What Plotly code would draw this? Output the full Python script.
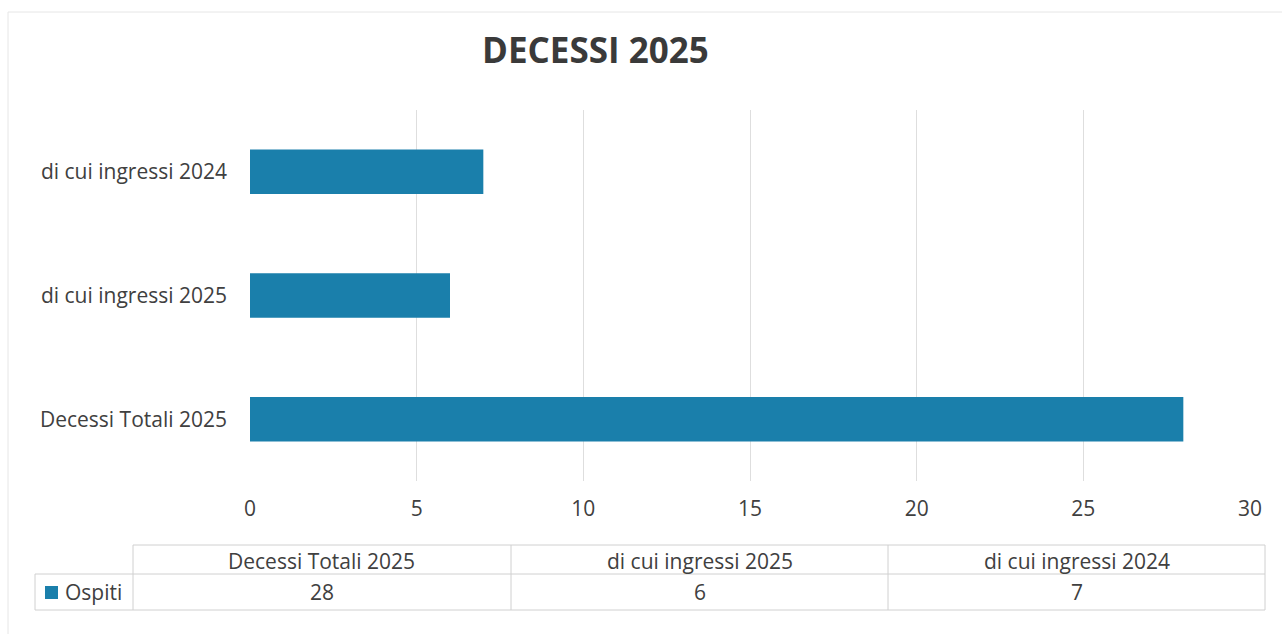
import plotly.graph_objects as go

categories = ["Decessi Totali 2025", "di cui ingressi 2025", "di cui ingressi 2024"]
values = [28, 6, 7]
series_name = "Ospiti"
title_text = "DECESSI 2025"
x_ticks = [0, 5, 10, 15, 20, 25, 30]

W, H = 1282, 634
BAR = "#1a7fab"
TXT = "#404040"
GRID = "#dedede"
FONT = "Open Sans, Noto Sans, sans-serif"
FS = 21

def px(x):
    return x / W

def py(y):
    return 1 - y / H

fig = go.Figure()
fig.add_trace(go.Bar(
    y=categories, x=values, orientation="h", name=series_name,
    marker=dict(color=BAR, line=dict(width=0)), width=0.36,
    showlegend=False, hoverinfo="x+y",
))

fig.update_layout(
    width=W, height=H, autosize=False,
    margin=dict(l=0, r=0, t=0, b=0, pad=0),
    paper_bgcolor="white", plot_bgcolor="white",
    font=dict(family=FONT, color=TXT, size=FS),
    xaxis=dict(
        domain=[px(250), px(1250)], range=[0, 30], tickvals=x_ticks,
        showgrid=True, gridcolor=GRID, gridwidth=1, zeroline=False,
        showline=False, ticks="", ticklabelstandoff=13, automargin=False,
        tickfont=dict(size=FS, color=TXT, family=FONT), fixedrange=True,
    ),
    yaxis=dict(
        domain=[py(481), py(110)], range=[-0.5, 2.5],
        categoryorder="array", categoryarray=categories,
        showgrid=False, zeroline=False, showline=False, ticks="",
        ticklabelstandoff=22, automargin=False,
        tickfont=dict(size=FS, color=TXT, family=FONT), fixedrange=True,
    ),
    bargap=0.64,
)

# Title
fig.add_annotation(
    x=px(595), y=py(50), xref="paper", yref="paper", text="<b>" + title_text + "</b>",
    showarrow=False, font=dict(size=35, color="#3a3a3a", family=FONT),
    xanchor="center", yanchor="middle",
)

shapes = []
def line(x0, y0, x1, y1, color="#d0d0d0", w=1):
    shapes.append(dict(type="line", xref="paper", yref="paper",
                       x0=px(x0), y0=py(y0), x1=px(x1), y1=py(y1),
                       line=dict(color=color, width=w)))

# Chart frame (faint)
line(8, 12, W, 12, color="#e6e6e6")
line(8, 12, 8, H, color="#e6e6e6")

# Data table
col_x = [133, 511, 888, 1265]
top, mid, bot = 545, 574, 610
left = 35
line(col_x[0], top, col_x[-1], top)
line(left, mid, col_x[-1], mid)
line(left, bot, col_x[-1], bot)
line(left, mid, left, bot)
for cx in col_x:
    line(cx, top, cx, bot)

for i, (cat, val) in enumerate(zip(categories, values)):
    cxm = (col_x[i] + col_x[i + 1]) / 2
    fig.add_annotation(x=px(cxm), y=py((top + mid) / 2 + 1), xref="paper", yref="paper",
                       text=cat, showarrow=False, font=dict(size=FS, color=TXT, family=FONT),
                       xanchor="center", yanchor="middle")
    fig.add_annotation(x=px(cxm), y=py((mid + bot) / 2), xref="paper", yref="paper",
                       text=str(val), showarrow=False, font=dict(size=FS, color=TXT, family=FONT),
                       xanchor="center", yanchor="middle")

# Legend key in table
shapes.append(dict(type="rect", xref="paper", yref="paper",
                   x0=px(45), x1=px(58), y0=py(599), y1=py(586),
                   fillcolor=BAR, line=dict(width=0)))
fig.add_annotation(x=px(63), y=py((mid + bot) / 2), xref="paper", yref="paper",
                   text=series_name, showarrow=False, font=dict(size=FS, color=TXT, family=FONT),
                   xanchor="left", yanchor="middle")

fig.update_layout(shapes=shapes)
fig.write_html("out.html")
